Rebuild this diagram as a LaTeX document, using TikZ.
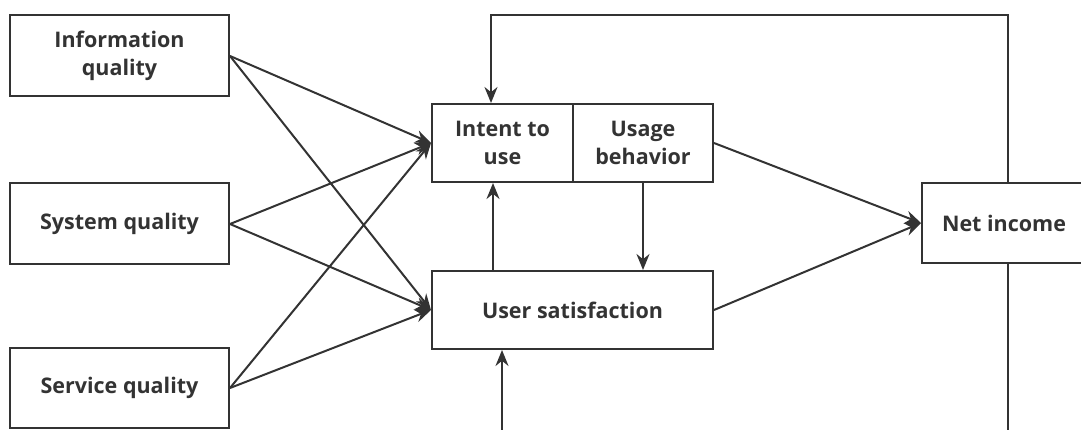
\documentclass[tikz,border=0pt]{standalone}
\usepackage{fontspec}
\setmainfont{Open Sans}
\usetikzlibrary{arrows.meta}
\definecolor{ink}{HTML}{333333}
\begin{document}
\begin{tikzpicture}[x=1pt,y=-1pt,
  box/.style={draw=ink, line width=2pt, rectangle, inner sep=0pt, align=center,
     font=\fontsize{21.5}{28}\selectfont\bfseries, text=ink},
  arr/.style={draw=ink, line width=2pt, -{Stealth[length=16pt,width=13pt]}},
  ln/.style={draw=ink, line width=2pt}]
\useasboundingbox (0,0) rectangle (1081,430);
\node[box, minimum width=219pt, minimum height=81pt] (iq) at (119.5,56) {Information\\quality};
\node[box, minimum width=219pt, minimum height=81pt] (sq) at (119.5,224) {System quality};
\node[box, minimum width=219pt, minimum height=80pt] (svq) at (119.5,388) {Service quality};
\node[box, minimum width=141pt, minimum height=78pt] (it) at (502.5,143) {Intent to\\use};
\node[box, minimum width=140pt, minimum height=78pt] (ub) at (643,143) {Usage\\behavior};
\node[box, minimum width=281pt, minimum height=78pt] (us) at (572.5,310) {User satisfaction};
\node[box, minimum width=164pt, minimum height=80pt] (ni) at (1004,223) {Net income};
\coordinate (top) at (1008,15);
\coordinate (bot1) at (1008,432);
\coordinate (bot2) at (502,432);
\draw[arr] (iq.east) -- (it.west);
\draw[arr] (iq.east) -- (us.west);
\draw[arr] (sq.east) -- (it.west);
\draw[arr] (sq.east) -- (us.west);
\draw[arr] (svq.east) -- (it.west);
\draw[arr] (svq.east) -- (us.west);
\draw[arr] (ub.east) -- (ni.west);
\draw[arr] (us.east) -- (ni.west);
\draw[arr] (us.north -| 493,0) -- (it.south -| 493,0);
\draw[arr] (ub.south -| 643,0) -- (us.north -| 643,0);
\draw[arr] (ni.north -| top) -- (top) -| (it.north -| 491,0);
\draw[ln] (ni.south -| bot1) -- (bot1);
\draw[arr] (bot2) -- (us.south -| bot2);
\end{tikzpicture}
\end{document}
